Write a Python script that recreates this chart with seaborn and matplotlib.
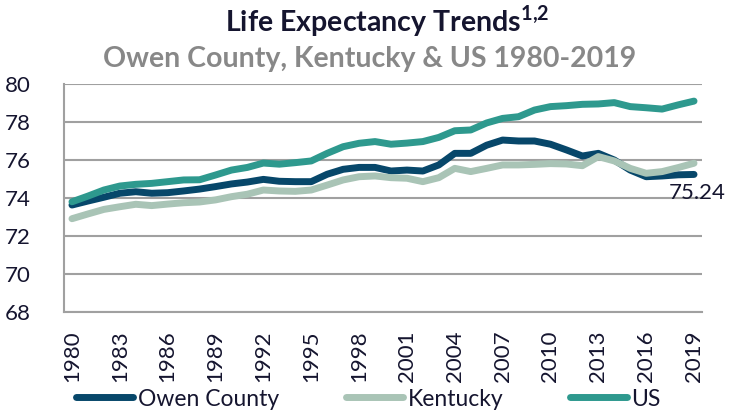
import pandas as pd
import matplotlib
matplotlib.use("Agg")
import matplotlib.pyplot as plt
import seaborn as sns

# Life expectancy
years = list(range(1980, 2020))
owen = [73.63, 73.84, 74.04, 74.25, 74.33, 74.25, 74.28, 74.37, 74.47, 74.60,
        74.74, 74.84, 74.98, 74.88, 74.86, 74.86, 75.25, 75.51, 75.61, 75.61,
        75.42, 75.47, 75.42, 75.74, 76.35, 76.35, 76.78, 77.05, 77.00, 77.00,
        76.83, 76.53, 76.21, 76.35, 76.00, 75.47, 75.12, 75.16, 75.22, 75.24]
kentucky = [72.91, 73.16, 73.40, 73.54, 73.67, 73.60, 73.68, 73.75, 73.79, 73.90,
            74.07, 74.20, 74.42, 74.37, 74.35, 74.42, 74.68, 74.95, 75.12, 75.16,
            75.07, 75.04, 74.86, 75.07, 75.56, 75.39, 75.56, 75.74, 75.74, 75.77,
            75.81, 75.79, 75.70, 76.18, 75.95, 75.56, 75.30, 75.39, 75.60, 75.83]
us = [73.80, 74.10, 74.42, 74.63, 74.72, 74.77, 74.86, 74.95, 74.96, 75.21,
      75.47, 75.61, 75.84, 75.78, 75.86, 75.95, 76.35, 76.70, 76.88, 76.97,
      76.83, 76.89, 76.97, 77.19, 77.54, 77.58, 77.95, 78.19, 78.28, 78.63,
      78.81, 78.86, 78.93, 78.95, 79.02, 78.81, 78.75, 78.68, 78.90, 79.10]
series = ["Owen County", "Kentucky", "US"]
colors = ["#07476A", "#A9C4B6", "#2E998E"]

df = pd.DataFrame({
    "pos": list(range(len(years))) * 3,
    "value": owen + kentucky + us,
    "area": [s for s in series for _ in years],
})

sns.set_style("white")
plt.rcParams["font.family"] = ["Lato", "DejaVu Sans"]
plt.rcParams["mathtext.fontset"] = "custom"
plt.rcParams["mathtext.rm"] = "Lato"
plt.rcParams["mathtext.bf"] = "Lato:bold"
text_col = "#15152F"
grid_col = "#A0A0A0"

fig = plt.figure(figsize=(7.37, 4.13), dpi=100)
ax = fig.add_axes([64 / 737, 1 - 312 / 413, 638 / 737, 228 / 413])

sns.lineplot(data=df, x="pos", y="value", hue="area", hue_order=series,
             palette=colors, linewidth=5, ax=ax, legend=False,
             solid_capstyle="round")

ax.set_xlim(-0.5, len(years) - 0.5)
ax.set_ylim(68, 80)
ax.set_yticks(range(68, 81, 2))
ax.set_yticklabels([str(v) for v in range(68, 81, 2)], fontsize=16, color=text_col)
ax.set_xticks(range(0, len(years), 3))
ax.set_xticklabels([str(years[i]) for i in range(0, len(years), 3)],
                   rotation=90, fontsize=16, color=text_col)
ax.set_xticks([i - 0.5 for i in range(len(years) + 1)], minor=True)
ax.tick_params(axis="x", which="major", length=0, pad=13)
ax.tick_params(axis="x", which="minor", length=5, width=1.5, color=grid_col)
ax.tick_params(axis="y", length=6, width=1.5, color=grid_col, pad=18)
ax.set_xlabel("")
ax.set_ylabel("")

ax.yaxis.grid(True, color=grid_col, linewidth=1.5)
ax.set_axisbelow(True)
for side in ["top", "right"]:
    ax.spines[side].set_visible(False)
for side in ["left", "bottom"]:
    ax.spines[side].set_color(grid_col)
    ax.spines[side].set_linewidth(1.5)

ax.annotate(f"{owen[-1]:.2f}", (len(years) - 1, owen[-1]), xytext=(2, -6),
            textcoords="offset points", ha="center", va="top",
            fontsize=16, color=text_col)

handles = [plt.Line2D([], [], color=c, linewidth=5, solid_capstyle="round")
           for c in colors]
fig.legend(handles, series, loc="center", bbox_to_anchor=(0.5, 1 - 399 / 413),
           ncol=3, frameon=False, fontsize=16.5, handlelength=2.5,
           handletextpad=0.2, columnspacing=2.9, labelcolor=text_col)

fig.text(0.526, 1 - 32 / 413, r"Life Expectancy Trends$^{\mathbf{1{,}2}}$",
         ha="center", va="baseline", fontsize=20.5, fontweight="bold",
         color=text_col)
fig.text(0.502, 1 - 67 / 413, "Owen County, Kentucky & US 1980-2019", ha="center",
         va="baseline", fontsize=20.5, fontweight="bold", color="#888888")

fig.savefig("out.png", dpi=100)
